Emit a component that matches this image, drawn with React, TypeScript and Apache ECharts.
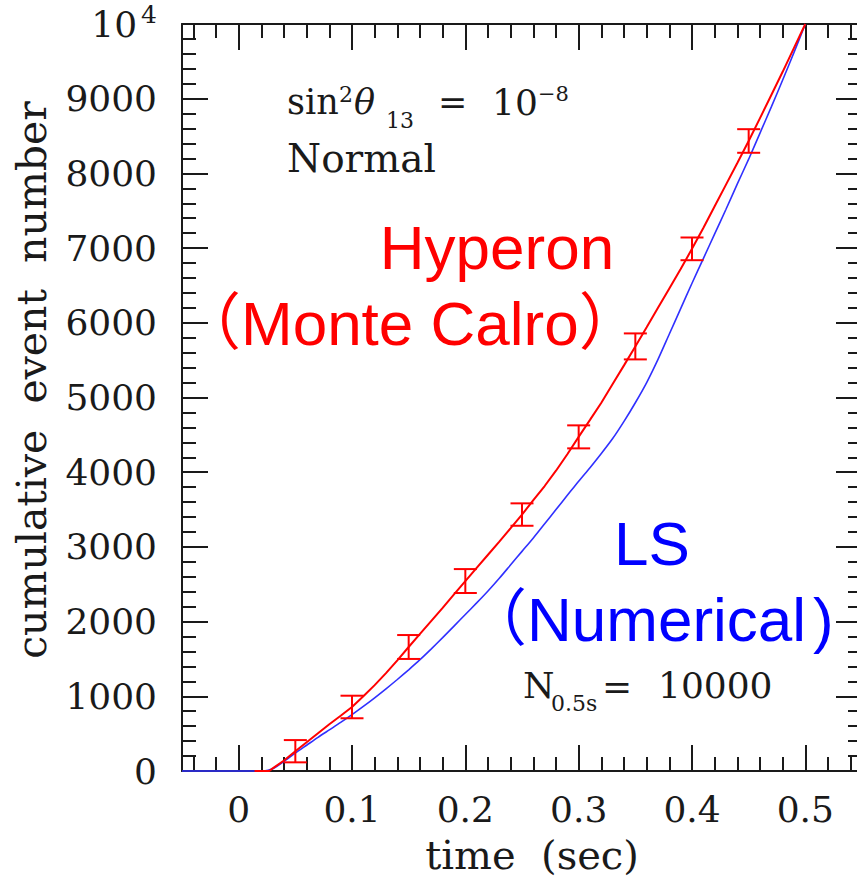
import React, { useEffect, useRef } from 'react';
import * as echarts from 'echarts';

// Hyperon (Monte Carlo) cumulative curve
const HYPERON_T = [0.014, 0.027, 0.03, 0.04, 0.05, 0.06, 0.07, 0.08, 0.09, 0.10, 0.11, 0.12, 0.13, 0.14, 0.15, 0.16, 0.17, 0.18, 0.19, 0.20, 0.21, 0.22, 0.23, 0.24, 0.25, 0.26, 0.27, 0.28, 0.29, 0.30, 0.31, 0.32, 0.33, 0.34, 0.35, 0.36, 0.37, 0.38, 0.39, 0.40, 0.41, 0.42, 0.43, 0.44, 0.45, 0.46, 0.47, 0.48, 0.49, 0.50];
const HYPERON_N = [0, 0, 35, 140, 265, 385, 505, 625, 740, 857, 1000, 1150, 1310, 1480, 1660, 1835, 2010, 2185, 2365, 2543, 2720, 2895, 3070, 3250, 3433, 3625, 3815, 4020, 4240, 4473, 4700, 4930, 5180, 5430, 5684, 5940, 6200, 6460, 6720, 6990, 7270, 7560, 7850, 8140, 8434, 8740, 9050, 9360, 9680, 10000];

// LS (Numerical) cumulative curve
const LS_T = [-0.05, 0.022, 0.03, 0.04, 0.05, 0.06, 0.07, 0.08, 0.09, 0.10, 0.11, 0.12, 0.13, 0.14, 0.15, 0.16, 0.17, 0.18, 0.19, 0.20, 0.21, 0.22, 0.23, 0.24, 0.25, 0.26, 0.27, 0.28, 0.29, 0.30, 0.31, 0.32, 0.33, 0.34, 0.35, 0.36, 0.37, 0.38, 0.39, 0.40, 0.41, 0.42, 0.43, 0.44, 0.45, 0.46, 0.47, 0.48, 0.49, 0.50];
const LS_N = [0, 0, 30, 130, 240, 345, 450, 550, 650, 755, 865, 980, 1100, 1225, 1355, 1490, 1635, 1785, 1940, 2095, 2250, 2410, 2580, 2760, 2940, 3120, 3310, 3500, 3690, 3880, 4060, 4250, 4450, 4680, 4930, 5200, 5510, 5850, 6190, 6530, 6860, 7190, 7520, 7860, 8190, 8540, 8890, 9250, 9620, 10000];

// Error bars on the Monte Carlo curve
const ERR_T = [0.05, 0.10, 0.15, 0.20, 0.25, 0.30, 0.35, 0.40, 0.45];
const ERR_N = [265, 857, 1660, 2543, 3433, 4473, 5684, 6990, 8434];
const ERR_SIGMA = [149, 151, 160, 160, 150, 154, 174, 152, 158];

const X_MIN = -0.05;
const X_MAX = 0.55;
const Y_MIN = 0;
const Y_MAX = 10000;

const SERIF = '"DejaVu Serif", serif';
const SANS = '"Liberation Sans", Arial, "Noto Sans CJK JP", sans-serif';
const INK = '#1a1a1a';

function xLabel(v: number): string {
  const k = Math.round(v * 10);
  if (Math.abs(v * 10 - k) > 1e-6) return '';
  return k === 0 ? '0' : (k / 10).toFixed(1);
}

function txt(x: number, y: number, text: string, font: string, fill: string, align = 'left', extra: any = {}) {
  return {
    type: 'text',
    x,
    y,
    z: 10,
    ...extra,
    style: {
      text,
      font,
      fill,
      textAlign: align,
      textVerticalAlign: 'middle',
      align,
      verticalAlign: 'middle',
    },
  };
}

export default function App() {
  const ref = useRef<HTMLDivElement>(null);
  useEffect(() => {
    if (!ref.current) return;
    const chart = echarts.init(ref.current, undefined, { renderer: 'svg' });

    const tickStyle = { color: INK, width: 2 };
    const axisBase = {
      type: 'value',
      axisLine: { show: true, onZero: false, lineStyle: { color: INK, width: 2 } },
      axisTick: { show: true, inside: true, length: 26, lineStyle: tickStyle },
      minorTick: { show: true, splitNumber: 5, length: 14, lineStyle: tickStyle },
      splitLine: { show: false },
      minorSplitLine: { show: false },
    };

    const option: any = {
      animation: false,
      backgroundColor: '#ffffff',
      grid: { left: 182, top: 24, right: -5, bottom: 113, outerBoundsMode: 'none', containLabel: false },
      xAxis: [
        {
          ...axisBase,
          position: 'bottom',
          min: X_MIN,
          max: X_MAX,
          axisLabel: {
            show: true,
            margin: 20,
            color: INK,
            fontFamily: SERIF,
            fontSize: 36,
            formatter: xLabel,
          },
        },
        {
          ...axisBase,
          position: 'top',
          min: X_MIN,
          max: X_MAX,
          axisLabel: { show: false },
        },
      ],
      yAxis: [
        {
          ...axisBase,
          position: 'left',
          min: Y_MIN,
          max: Y_MAX,
          interval: 1000,
          axisLabel: {
            show: true,
            margin: 25,
            color: INK,
            fontFamily: SERIF,
            fontSize: 36,
            formatter: (v: number) => (v === 10000 ? '{a|10}{b|4}' : String(v)),
            rich: {
              a: { fontFamily: SERIF, fontSize: 36, lineHeight: 44, color: INK },
              b: { fontFamily: SERIF, fontSize: 25, lineHeight: 38, verticalAlign: 'top', color: INK, padding: [0, 0, 0, 4] },
            },
          },
        },
        {
          ...axisBase,
          position: 'right',
          min: Y_MIN,
          max: Y_MAX,
          interval: 1000,
          axisLabel: { show: false },
        },
      ],
      series: [
        {
          name: 'LS (Numerical)',
          type: 'line',
          data: LS_T.map((t, i) => [t, LS_N[i]]),
          showSymbol: false,
          clip: false,
          smooth: 0.25,
          z: 3,
          lineStyle: { color: '#3030ff', width: 1.6 },
        },
        {
          name: 'Hyperon (Monte Calro)',
          type: 'line',
          data: HYPERON_T.map((t, i) => [t, HYPERON_N[i]]),
          showSymbol: false,
          clip: false,
          z: 4,
          lineStyle: { color: '#ff0000', width: 2 },
        },
        {
          name: 'errors',
          type: 'custom',
          z: 5,
          data: ERR_T.map((t, i) => [t, ERR_N[i], ERR_SIGMA[i]]),
          encode: { x: 0, y: 1 },
          renderItem: (params: any, api: any) => {
            const t = api.value(0);
            const v = api.value(1);
            const e = api.value(2);
            const top = api.coord([t, v + e]);
            const bot = api.coord([t, v - e]);
            const hw = 11.5;
            const style = { stroke: '#ff0000', lineWidth: 2, fill: null };
            return {
              type: 'group',
              children: [
                { type: 'line', shape: { x1: top[0], y1: top[1], x2: bot[0], y2: bot[1] }, style },
                { type: 'line', shape: { x1: top[0] - hw, y1: top[1], x2: top[0] + hw, y2: top[1] }, style },
                { type: 'line', shape: { x1: bot[0] - hw, y1: bot[1], x2: bot[0] + hw, y2: bot[1] }, style },
              ],
            };
          },
        },
      ],
      graphic: [
        // axis titles
        txt(532, 855, 'time  (sec)', `40px ${SERIF}`, INK, 'center'),
        txt(32, 380, 'cumulative  event  number', `41px ${SERIF}`, INK, 'center', { rotation: Math.PI / 2 }),
        // sin^2 theta_13 = 10^-8
        txt(287, 102, 'sin', `35px ${SERIF}`, INK),
        txt(339, 94, '2', `22px ${SERIF}`, INK),
        txt(354, 102, 'θ', `italic 35px ${SERIF}`, INK),
        txt(386, 120, '13', `22px ${SERIF}`, INK),
        txt(438, 102, '=', `35px ${SERIF}`, INK),
        txt(492, 102, '10', `36px ${SERIF}`, INK),
        txt(538, 94, '−8', `21px ${SERIF}`, INK),
        txt(287, 158, 'Normal', `39px ${SERIF}`, INK),
        // N_0.5s = 10000
        txt(523, 685, 'N', `36px ${SERIF}`, INK),
        txt(551, 703, '0.5s', `22px ${SERIF}`, INK),
        txt(602, 686, '=', `36px ${SERIF}`, INK),
        txt(658, 685, '10000', `36px ${SERIF}`, INK),
        // series labels
        txt(497, 247, 'Hyperon', `62px ${SANS}`, '#ff0000', 'center'),
        txt(179, 323, '（Monte Calro）', `62px ${SANS}`, '#ff0000'),
        txt(652, 543, 'LS', `62px ${SANS}`, '#0000ff', 'center'),
        txt(465, 619, '（Numerical', `62px ${SANS}`, '#0000ff'),
        txt(813, 619, ')', `62px ${SANS}`, '#0000ff'),
      ],
    };

    chart.setOption(option);
    return () => chart.dispose();
  }, []);

  return (
    <div
      ref={ref}
      style={{ position: 'fixed', left: 0, top: 0, width: 857, height: 884, background: '#ffffff' }}
    />
  );
}
